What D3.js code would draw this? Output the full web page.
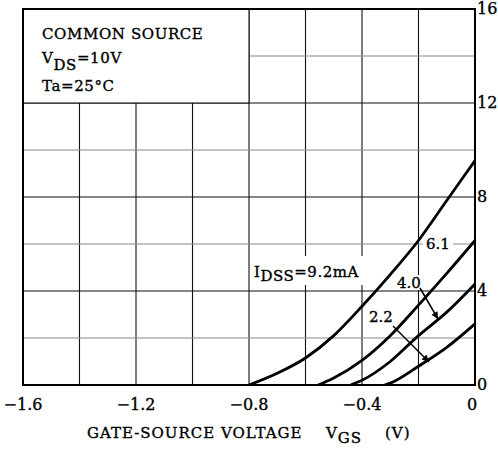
<!DOCTYPE html>
<html>
<head>
<meta charset="utf-8">
<script src="https://cdn.jsdelivr.net/npm/d3@7"></script>
<style>
  body { margin: 0; background: #fff; }
  text { font-family: "DejaVu Serif", serif; fill: #000; stroke: #000; stroke-width: 0.35px; }
</style>
</head>
<body>
<script>
// gate voltage (V) and drain current (mA)
var vgs92 = [-0.8, -0.7, -0.6, -0.5, -0.4, -0.3, -0.2, -0.1, 0];
var id92  = [0, 0.5, 1.15, 2.1, 3.35, 4.7, 6.15, 7.85, 9.55];
var vgs61 = [-0.555, -0.5, -0.4, -0.3, -0.2, -0.1, 0];
var id61  = [0, 0.3, 1.05, 2.1, 3.4, 4.75, 6.15];
var vgs40 = [-0.44, -0.4, -0.3, -0.2, -0.1, 0];
var id40  = [0, 0.2, 1.0, 2.1, 3.1, 4.3];
var vgs22 = [-0.32, -0.3, -0.2, -0.1, 0];
var id22  = [0, 0.08, 0.8, 1.6, 2.6];

var xTicks = [-1.6, -1.2, -0.8, -0.4, 0];
var xTickLabels = ["\u22121.6", "\u22121.2", "\u22120.8", "\u22120.4", "0"];
var yTicks = [0, 4, 8, 12, 16];
var xGrid = [-1.4, -1.2, -1.0, -0.8, -0.6, -0.4, -0.2];
var yGrid = [2, 4, 6, 8, 10, 12, 14];

var width = 498, height = 450;
var x = d3.scaleLinear().domain([-1.6, 0]).range([23, 475]);
var y = d3.scaleLinear().domain([0, 16]).range([385, 9]);

var svg = d3.select("body").append("svg")
  .attr("width", width)
  .attr("height", height);

svg.append("defs").append("marker")
  .attr("id", "arr")
  .attr("viewBox", "0 0 10 10")
  .attr("refX", 10).attr("refY", 5)
  .attr("markerWidth", 9).attr("markerHeight", 7)
  .attr("markerUnits", "userSpaceOnUse")
  .attr("orient", "auto")
  .append("path").attr("d", "M0,0L10,5L0,10z").attr("fill", "#000");

// grid
svg.selectAll(".vg").data(xGrid).enter().append("line")
  .attr("x1", function(d) { return x(d); })
  .attr("x2", function(d) { return x(d); })
  .attr("y1", y(0)).attr("y2", y(16))
  .attr("stroke", "#111").attr("stroke-width", 1.1);

svg.selectAll(".hg").data(yGrid).enter().append("line")
  .attr("x1", x(-1.6)).attr("x2", x(0))
  .attr("y1", function(d) { return y(d); })
  .attr("y2", function(d) { return y(d); })
  .attr("stroke", function(d) { return d % 4 == 0 ? "#111" : "#888"; })
  .attr("stroke-width", 1.1);

// legend box on top-left of the grid
svg.append("rect")
  .attr("x", x(-1.6)).attr("y", y(16))
  .attr("width", x(-0.8) - x(-1.6)).attr("height", y(12) - y(16))
  .attr("fill", "#fff").attr("stroke", "#111").attr("stroke-width", 1.1);

var leg = svg.append("g").style("font-size", "15px").style("letter-spacing", "0.6px");
leg.append("text").attr("x", 42).attr("y", 39).text("COMMON SOURCE");
var t2 = leg.append("text").attr("x", 42).attr("y", 63);
t2.append("tspan").text("V");
t2.append("tspan").attr("dy", 7).text("DS");
t2.append("tspan").attr("dy", -7).text("=10V");
leg.append("text").attr("x", 42).attr("y", 91).text("Ta=25\u00b0C");

// white patches behind curve labels
svg.append("rect").attr("x", 250).attr("y", 256).attr("width", 118).attr("height", 29).attr("fill", "#fff");
svg.append("rect").attr("x", 423).attr("y", 236).attr("width", 30).attr("height", 16).attr("fill", "#fff");
svg.append("rect").attr("x", 395).attr("y", 275).attr("width", 27).attr("height", 15).attr("fill", "#fff");
svg.append("rect").attr("x", 368).attr("y", 309).attr("width", 27).attr("height", 15).attr("fill", "#fff");

// curves
var line = d3.line()
  .x(function(d) { return x(d[0]); })
  .y(function(d) { return y(d[1]); })
  .curve(d3.curveMonotoneX);

var curves = [d3.zip(vgs92, id92), d3.zip(vgs61, id61), d3.zip(vgs40, id40), d3.zip(vgs22, id22)];
svg.selectAll(".curve").data(curves).enter().append("path")
  .attr("d", line)
  .attr("fill", "none")
  .attr("stroke", "#000")
  .attr("stroke-width", 2.8);

// curve labels
var lab = svg.append("g").style("font-size", "15px");
var t3 = lab.append("text").attr("x", 254).attr("y", 277).style("letter-spacing", "0.5px");
t3.append("tspan").text("I");
t3.append("tspan").attr("dy", 4).text("DSS");
t3.append("tspan").attr("dy", -4).text("=9.2mA");
lab.append("text").attr("x", 426).attr("y", 249).text("6.1");
lab.append("text").attr("x", 397).attr("y", 288).text("4.0");
lab.append("text").attr("x", 369).attr("y", 322).text("2.2");

svg.append("line")
  .attr("x1", 420).attr("y1", 288).attr("x2", 438).attr("y2", 319)
  .attr("stroke", "#000").attr("stroke-width", 1.5).attr("marker-end", "url(#arr)");
svg.append("line")
  .attr("x1", 393).attr("y1", 326).attr("x2", 429).attr("y2", 362)
  .attr("stroke", "#000").attr("stroke-width", 1.5).attr("marker-end", "url(#arr)");

// frame
svg.append("rect")
  .attr("x", x(-1.6)).attr("y", y(16))
  .attr("width", x(0) - x(-1.6)).attr("height", y(0) - y(16))
  .attr("fill", "none").attr("stroke", "#000").attr("stroke-width", 2);

// x tick labels
svg.selectAll(".xt").data(xTicks).enter().append("text")
  .attr("x", function(d) { return d == 0 ? x(d) - 3 : x(d); })
  .attr("y", 410)
  .attr("text-anchor", "middle")
  .style("font-size", "16px")
  .text(function(d, i) { return xTickLabels[i]; });

// y tick labels on the right
svg.selectAll(".yt").data(yTicks).enter().append("text")
  .attr("x", 477)
  .attr("y", function(d) { return y(d) + 5; })
  .style("font-size", "16px")
  .text(function(d) { return d; });

// x title
var xt = svg.append("text").attr("x", 87).attr("y", 438)
  .style("font-size", "15px").style("letter-spacing", "1px");
xt.append("tspan").text("GATE-SOURCE VOLTAGE");
xt.append("tspan").attr("x", 326).text("V");
xt.append("tspan").attr("dy", 5).text("GS");
xt.append("tspan").attr("dy", -5).attr("x", 385).text("(V)");
</script>
</body>
</html>
